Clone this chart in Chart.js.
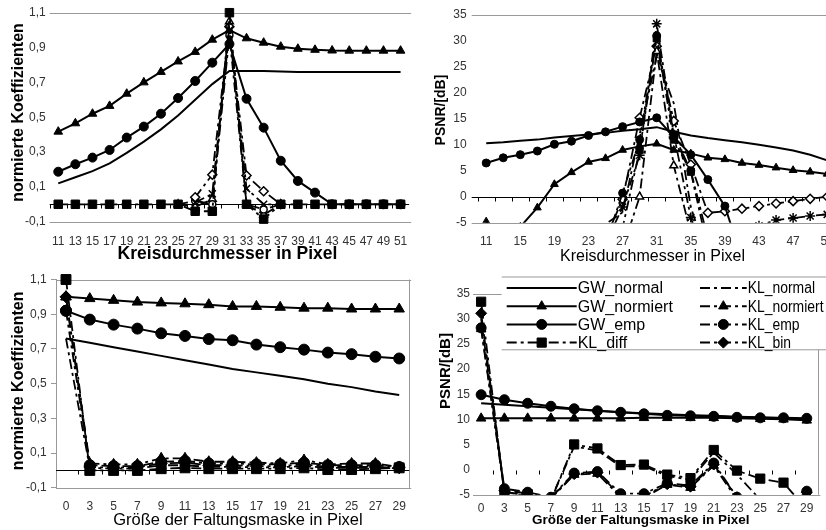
<!DOCTYPE html>
<html>
<head>
<meta charset="utf-8">
<script src="https://cdn.jsdelivr.net/npm/chart.js@4"></script>
<style>
  html, body { margin: 0; padding: 0; background: #fff; }
  body { width: 826px; height: 530px; overflow: hidden; position: relative; }
  canvas { position: absolute; }
</style>
</head>
<body>
<canvas id="kreisKoeff" width="420" height="265" style="left:0;top:0"></canvas>
<canvas id="kreisPsnr" width="450" height="265" style="left:420px;top:0"></canvas>
<canvas id="maskeKoeff" width="420" height="265" style="left:0;top:265px"></canvas>
<canvas id="maskePsnr" width="406" height="265" style="left:420px;top:265px"></canvas>
<script>
const FONT = '"Liberation Sans", Arial, sans-serif';
Chart.defaults.font.family = FONT;
Chart.defaults.color = '#333';

// x categories and y ticks
const kreisLabels = ['11','13','15','17','19','21','23','25','27','29','31','33','35','37','39','41','43','45','47','49','51'];
const maskLabels = ['0','3','5','7','9','11','13','15','17','19','21','23','25','27','29'];
const koeffTicks = [-0.1, 0.1, 0.3, 0.5, 0.7, 0.9, 1.1];
const psnrTicks = [-5, 0, 5, 10, 15, 20, 25, 30, 35];

// oben links: normierte Koeffizienten ueber Kreisdurchmesser
const kkGwNormal   = [0.12,0.155,0.19,0.235,0.295,0.36,0.43,0.51,0.60,0.69,0.765,0.765,0.765,0.762,0.76,0.76,0.76,0.76,0.76,0.76,0.76];
const kkGwNormiert = [0.417,0.465,0.52,0.565,0.635,0.70,0.76,0.82,0.875,0.945,1.0,0.953,0.928,0.905,0.893,0.887,0.883,0.882,0.882,0.882,0.882];
const kkGwEmp      = [0.187,0.23,0.268,0.312,0.383,0.446,0.52,0.61,0.708,0.813,0.92,0.606,0.44,0.25,0.134,0.067,0,0,0,0,0];
const kkKlDiff     = [0,0,0,0,0,0,0,0,-0.04,-0.04,1.1,0,-0.085,0,0,0,0,0,0,0,0];
const kkKlNormal   = [null,null,null,null,null,null,null,null,0.01,0.06,1.0,0.09,0.0,0,null,null,null,null,null,null,null];
const kkKlBin      = [null,null,null,null,null,null,null,null,0.04,0.17,1.02,0.165,0.075,0,null,null,null,null,null,null,null];
const kkKlEmp      = [null,null,null,null,null,null,null,0,0.02,0.0,0.97,0.0,-0.03,0,null,null,null,null,null,null,null];
const kkKlNormiert = [null,null,null,null,null,null,null,0,-0.015,0.03,1.05,0.0,-0.06,0,null,null,null,null,null,null,null];

// oben rechts: PSNR ueber Kreisdurchmesser
const kpGwNormal   = [10.3,10.5,10.8,11.0,11.4,11.7,12.0,12.3,12.7,13.0,13.4,12.5,11.8,11.3,10.9,10.5,10.0,9.5,8.9,8.1,7.0];
const kpGwNormiert = [-4.8,-9.0,-5.8,-2.1,2.4,4.7,6.7,7.4,9.0,9.7,10.2,9.0,8.3,7.5,7.2,6.5,6.1,5.6,5.1,4.8,4.4];
const kpGwEmp      = [6.5,7.5,8.1,8.8,10.1,10.7,11.8,12.5,13.5,14.4,15.2,11.5,8.1,3.3,-1.8,-12,null,null,null,null,null];
const kpKlDiff     = [null,null,null,null,null,null,null,-14,-6,9,30.5,11,4.8,-10,null,null,null,null,null,null,null];
const kpKlNormal   = [null,null,null,null,null,null,-5.6,-5.3,-3,12,27,18,-2,-12,null,null,null,null,null,null,null];
const kpKlNormiert = [null,null,null,null,null,null,null,null,-10,0,28,6,-7,null,null,null,null,null,null,null,null];
const kpKlEmp      = [null,null,null,null,null,null,null,-9,0.7,11,31,12,5,-8,null,null,null,null,null,null,null];
const kpKlBin      = [null,null,null,null,null,null,null,-8,-0.5,15.2,29,14.6,6.2,-3.1,-2.8,-2.3,-1.8,-1.3,-0.85,-0.4,0];
const kpKlStern    = [null,null,null,null,null,null,null,-9,-2,8,33.3,12,-4,-14,null,-14,-5.6,-4.5,-4.1,-3.7,-3.4];

// unten links: normierte Koeffizienten ueber Faltungsmaske
const mkGwNormal   = [0.76,0.735,0.71,0.685,0.66,0.635,0.61,0.585,0.565,0.545,0.525,0.5,0.48,0.455,0.435];
const mkGwNormiert = [1.0,0.99,0.98,0.97,0.965,0.96,0.955,0.945,0.945,0.94,0.935,0.935,0.93,0.93,0.93];
const mkGwEmp      = [0.92,0.869,0.84,0.817,0.79,0.775,0.757,0.75,0.725,0.71,0.696,0.679,0.67,0.655,0.645];
const mkKlDiff     = [1.1,0.0,0.0,0.0,0.01,0.015,0.01,0.01,0.01,0.01,0.015,0.005,0.005,0.01,0.015];
const mkKlNormal   = [0.76,0.015,0.01,0.012,0.03,0.03,0.02,0.02,0.018,0.018,0.025,0.015,0.015,0.015,0.012];
const mkKlNormiert = [1.0,0.04,0.035,0.035,0.07,0.07,0.05,0.05,0.045,0.04,0.06,0.035,0.04,0.04,0.02];
const mkKlEmp      = [0.92,0.03,0.025,0.025,0.05,0.055,0.04,0.04,0.035,0.035,0.045,0.03,0.03,0.03,0.02];
const mkKlBin      = [1.0,0.02,0.015,0.02,0.04,0.045,0.03,0.03,0.025,0.025,0.035,0.02,0.02,0.02,0.015];

// unten rechts: PSNR ueber Faltungsmaske
const mpGwNormal   = [13.2,12.9,12.6,12.3,12.0,11.7,11.4,11.2,11.0,10.8,10.7,10.5,10.4,10.2,10.0];
const mpGwNormiert = [10.2,10.2,10.2,10.2,10.2,10.2,10.2,10.3,10.3,10.3,10.3,10.2,10.1,10.0,9.8];
const mpGwEmp      = [14.9,13.9,13.2,12.6,12.1,11.7,11.4,11.1,10.8,10.7,10.6,10.4,10.3,10.3,10.2];
const mpKlDiff     = [33.4,-4.7,-4.9,-6,5.0,4.2,0.9,1.0,-1.0,-1.7,3.9,-0.2,-1.8,-2.6,-8];
const mpKlNormal   = [30.0,-4.5,-5.2,-6,4.6,3.8,0.6,0.7,-1.3,-2.0,3.4,-1.0,-6,-6,-6];
const mpKlNormiert = [28.0,-4.5,-5.0,-5.8,-1.0,-0.8,-5.5,-5.6,-3.0,-3.6,0.8,-6,-9,-9,-4.8];
const mpKlEmp      = [28.2,-3.8,-4.5,-5.5,-0.7,-0.4,-4.8,-4.8,-2.7,-3.2,1.3,-5.5,-8,-8,-4.3];
const mpKlBin      = [31.1,-4.2,-4.7,-5.6,-0.9,-0.6,-5.2,-5.3,-2.9,-3.4,1.0,-5.5,-9,-9,-4.5];

const dashDot = [10, 4, 3, 4];

function line(label, values, style) {
  return Object.assign({
    label,
    data: values.map((v, i) => ({ x: i, y: v })),
    borderColor: '#000',
    borderWidth: 2,
    pointRadius: 0,
    pointStyle: 'circle',
    pointBackgroundColor: '#000',
    pointBorderColor: '#000',
    pointBorderWidth: 1,
    tension: 0
  }, style);
}
const gw = (marker, r) => ({ pointStyle: marker, pointRadius: r || 0 });
const kl = (marker, r, open) => ({
  borderDash: dashDot, borderWidth: 1.8, pointStyle: marker, pointRadius: r || 0,
  pointBackgroundColor: open ? '#fff' : '#000', pointBorderWidth: open ? 1.5 : 1
});

// grey plot frame lines
function frame(sides) {
  return {
    id: 'frame',
    beforeDatasetsDraw(chart) {
      const { ctx, chartArea: a } = chart;
      ctx.save();
      ctx.strokeStyle = '#999';
      ctx.lineWidth = 1;
      ctx.beginPath();
      if (sides.includes('top')) { ctx.moveTo(a.left, Math.round(a.top) + 0.5); ctx.lineTo(a.right + 2, Math.round(a.top) + 0.5); }
      if (sides.includes('bottom')) { ctx.moveTo(a.left, Math.round(a.bottom) + 0.5); ctx.lineTo(a.right + 2, Math.round(a.bottom) + 0.5); }
      if (sides.includes('right')) { ctx.moveTo(Math.round(a.right) + 0.5, a.top); ctx.lineTo(Math.round(a.right) + 0.5, a.bottom); }
      ctx.stroke();
      ctx.restore();
    }
  };
}

// category axis crossing at y = 0
function zeroAxis(count, withLine) {
  return {
    id: 'zeroAxis',
    beforeDatasetsDraw(chart) {
      const { ctx, chartArea: a, scales: { x, y } } = chart;
      const y0 = Math.round(y.getPixelForValue(0)) + 0.5;
      ctx.save();
      ctx.strokeStyle = '#000';
      ctx.lineWidth = 1;
      ctx.beginPath();
      if (withLine) { ctx.moveTo(a.left, y0); ctx.lineTo(a.right, y0); }
      for (let k = 0; k <= count; k++) {
        const px = Math.round(x.getPixelForValue(k - 0.5)) + 0.5;
        if (px < a.left || px > a.right) continue;
        ctx.moveTo(px, y0);
        ctx.lineTo(px, y0 + 4);
      }
      ctx.stroke();
      ctx.restore();
    }
  };
}

function titles(items) {
  return {
    id: 'titles',
    afterDraw(chart) {
      const ctx = chart.ctx;
      items.forEach(t => {
        ctx.save();
        ctx.translate(t.x, t.y);
        if (t.rotate) ctx.rotate(-Math.PI / 2);
        ctx.font = t.font + ' ' + FONT;
        ctx.fillStyle = '#000';
        ctx.textAlign = 'center';
        ctx.textBaseline = t.rotate ? 'middle' : 'alphabetic';
        ctx.fillText(t.text, 0, 0);
        ctx.restore();
      });
    }
  };
}

// legend box drawn over the upper part of the last plot
function boxLegend(cfg) {
  return {
    id: 'boxLegend',
    afterDraw(chart) {
      const ctx = chart.ctx;
      ctx.save();
      ctx.fillStyle = '#fff';
      ctx.fillRect(cfg.x, cfg.y, cfg.w, cfg.h);
      ctx.strokeStyle = '#999';
      ctx.lineWidth = 1;
      ctx.beginPath();
      ctx.moveTo(cfg.x, cfg.y + 0.5); ctx.lineTo(cfg.x + cfg.w, cfg.y + 0.5);
      ctx.moveTo(cfg.x, cfg.y + cfg.h + 0.5); ctx.lineTo(cfg.x + cfg.w, cfg.y + cfg.h + 0.5);
      ctx.stroke();
      cfg.items.forEach((name, i) => {
        const ds = chart.data.datasets.find(d => d.label === name);
        const c = cfg.cols[Math.floor(i / 4)];
        const yy = cfg.rowY + (i % 4) * cfg.rowH;
        ctx.strokeStyle = '#000';
        ctx.fillStyle = '#000';
        ctx.lineWidth = 2;
        ctx.setLineDash(ds.borderDash || []);
        ctx.beginPath(); ctx.moveTo(c.x0, yy); ctx.lineTo(c.x1, yy); ctx.stroke();
        ctx.setLineDash([]);
        if (ds.pointRadius > 0) {
          ctx.lineWidth = 1;
          Chart.helpers.drawPoint(ctx, { pointStyle: ds.pointStyle, radius: ds.pointRadius, borderWidth: 1 }, (c.x0 + c.x1) / 2, yy);
        }
        ctx.save();
        ctx.translate(c.x1 + 1, yy + 1);
        ctx.scale(c.squeeze || 1, 1);
        ctx.font = '16px ' + FONT;
        ctx.textBaseline = 'middle';
        ctx.textAlign = 'left';
        ctx.fillText(name, 0, 0);
        ctx.restore();
      });
      ctx.restore();
    }
  };
}

function plot(id, g, datasets, plugins) {
  const yFmt = g.koeff ? v => v.toFixed(1).replace('.', ',') : v => String(v);
  datasets.forEach(d => { d.clip = g.clip; });
  return new Chart(document.getElementById(id), {
    type: 'line',
    data: { datasets },
    options: {
      responsive: false,
      animation: false,
      events: [],
      layout: { padding: { left: 0, top: g.top, right: g.w - g.right, bottom: 0 } },
      plugins: { legend: { display: false }, tooltip: { enabled: false } },
      scales: {
        x: {
          type: 'linear',
          min: g.xMin,
          max: g.xMax,
          afterBuildTicks: s => { s.ticks = g.xTicks.map(v => ({ value: v })); },
          afterFit: s => { s.height = g.h - g.bottom; },
          grid: { display: false, drawTicks: false },
          border: { display: false },
          ticks: { padding: g.xPad, autoSkip: false, maxRotation: 0, minRotation: 0, font: { size: 12 }, callback: v => g.xLabels[v] }
        },
        y: {
          min: g.yTicks[0],
          max: g.yTicks[g.yTicks.length - 1],
          afterBuildTicks: s => { s.ticks = g.yTicks.map(v => ({ value: v })); },
          afterFit: s => { s.width = g.left; },
          grid: g.yAxisLine
            ? { display: true, drawOnChartArea: false, drawTicks: true, tickLength: 5, color: '#999' }
            : { display: false, drawTicks: false },
          border: { display: !!g.yAxisLine, color: '#999' },
          ticks: { padding: g.yPad, font: { size: 12 }, callback: yFmt }
        }
      }
    },
    plugins
  });
}

const evenIdx = kreisLabels.map((_, i) => i).filter(i => i % 2 === 0);

// oben links
plot('kreisKoeff', {
  w: 420, h: 265, left: 49.7, right: 409.9, top: 12.7, bottom: 221.7,
  xMin: -0.5, xMax: 20.5, xTicks: kreisLabels.map((_, i) => i), xLabels: kreisLabels, xPad: 12.5,
  yTicks: koeffTicks, koeff: true, yPad: 4, clip: false
}, [
  line('KL_diff', kkKlDiff, kl('rect', 6)),
  line('KL_normal', kkKlNormal, kl('crossRot', 5, true)),
  line('KL_bin', kkKlBin, kl('rectRot', 4.5, true)),
  line('KL_emp', kkKlEmp, kl('circle', 3.5, true)),
  line('KL_normiert', kkKlNormiert, kl('triangle', 4.5, true)),
  line('GW_normiert', kkGwNormiert, gw('triangle', 5)),
  line('GW_emp', kkGwEmp, gw('circle', 4.5)),
  line('GW_normal', kkGwNormal, gw())
], [
  frame(['top', 'bottom']),
  zeroAxis(kreisLabels.length, true),
  titles([
    { text: 'normierte Koeffizienten', x: 18.3, y: 112.5, font: 'bold 16px', rotate: true },
    { text: 'Kreisdurchmesser in Pixel', x: 227.5, y: 259, font: 'bold 17.5px' }
  ])
]);

// oben rechts
plot('kreisPsnr', {
  w: 450, h: 265, left: 51.7, right: 421.7, top: 15, bottom: 222.7,
  xMin: -0.85, xMax: 20.85, xTicks: evenIdx, xLabels: kreisLabels, xPad: 12,
  yTicks: psnrTicks, koeff: false, yPad: 5, clip: { left: 20, top: 20, right: 20, bottom: 0 }
}, [
  line('GW_normal', kpGwNormal, gw()),
  line('GW_normiert', kpGwNormiert, gw('triangle', 4.5)),
  line('GW_emp', kpGwEmp, gw('circle', 4)),
  line('KL_stern', kpKlStern, kl('star', 5, true)),
  line('KL_diff', kpKlDiff, kl('rect', 5)),
  line('KL_normal', kpKlNormal, kl()),
  line('KL_normiert', kpKlNormiert, kl('triangle', 4.5, true)),
  line('KL_emp', kpKlEmp, kl('circle', 4)),
  line('KL_bin', kpKlBin, kl('rectRot', 4.5, true))
], [
  frame(['top', 'bottom']),
  zeroAxis(kreisLabels.length, true),
  titles([
    { text: 'PSNR/[dB]', x: 20.7, y: 110, font: 'bold 14px', rotate: true },
    { text: 'Kreisdurchmesser in Pixel', x: 232.5, y: 261, font: '16px' }
  ])
]);

// unten links
plot('maskeKoeff', {
  w: 420, h: 265, left: 56, right: 409.2, top: 14.5, bottom: 222.8,
  xMin: -0.42, xMax: 14.42, xTicks: maskLabels.map((_, i) => i), xLabels: maskLabels, xPad: 12,
  yTicks: koeffTicks, koeff: true, yPad: 4.3, yAxisLine: true, clip: false
}, [
  line('GW_normal', mkGwNormal, gw()),
  line('GW_normiert', mkGwNormiert, gw('triangle', 6)),
  line('GW_emp', mkGwEmp, gw('circle', 5.5)),
  line('KL_diff', mkKlDiff, kl('rect', 7)),
  line('KL_normal', mkKlNormal, kl()),
  line('KL_normiert', mkKlNormiert, kl('triangle', 6)),
  line('KL_emp', mkKlEmp, kl('circle', 5.5)),
  line('KL_bin', mkKlBin, kl('rectRot', 6))
], [
  frame(['top', 'bottom', 'right']),
  zeroAxis(maskLabels.length, true),
  titles([
    { text: 'normierte Koeffizienten', x: 18.3, y: 115.8, font: 'bold 16px', rotate: true },
    { text: 'Größe der Faltungsmaske in Pixel', x: 238, y: 259.5, font: '16.5px' }
  ])
]);

// unten rechts, mit Legende
plot('maskePsnr', {
  w: 406, h: 265, left: 53, right: 398.4, top: 28.7, bottom: 229.7,
  xMin: -0.35, xMax: 14.5, xTicks: maskLabels.map((_, i) => i), xLabels: maskLabels, xPad: 7,
  yTicks: psnrTicks, koeff: false, yPad: 3, clip: { left: 20, top: 20, right: 20, bottom: 0 }
}, [
  line('GW_normal', mpGwNormal, gw()),
  line('GW_normiert', mpGwNormiert, gw('triangle', 5.5)),
  line('GW_emp', mpGwEmp, gw('circle', 5)),
  line('KL_diff', mpKlDiff, kl('rect', 6.5)),
  line('KL_normal', mpKlNormal, kl()),
  line('KL_normiert', mpKlNormiert, kl('triangle', 5.5)),
  line('KL_emp', mpKlEmp, kl('circle', 5)),
  line('KL_bin', mpKlBin, kl('rectRot', 5.5))
], [
  frame(['top', 'bottom', 'right']),
  zeroAxis(maskLabels.length, false),
  titles([
    { text: 'PSNR/[dB]', x: 26, y: 106, font: 'bold 15px', rotate: true },
    { text: 'Größe der Faltungsmaske in Pixel', x: 220.8, y: 259, font: 'bold 13.5px' }
  ]),
  boxLegend({
    x: 81.7, y: 11.5, w: 330, h: 72.8, rowY: 23, rowH: 18.2,
    cols: [{ x0: 86.7, x1: 156.7 }, { x0: 280, x1: 326.7, squeeze: 0.87 }],
    items: ['GW_normal', 'GW_normiert', 'GW_emp', 'KL_diff', 'KL_normal', 'KL_normiert', 'KL_emp', 'KL_bin']
  })
]);
</script>
</body>
</html>
